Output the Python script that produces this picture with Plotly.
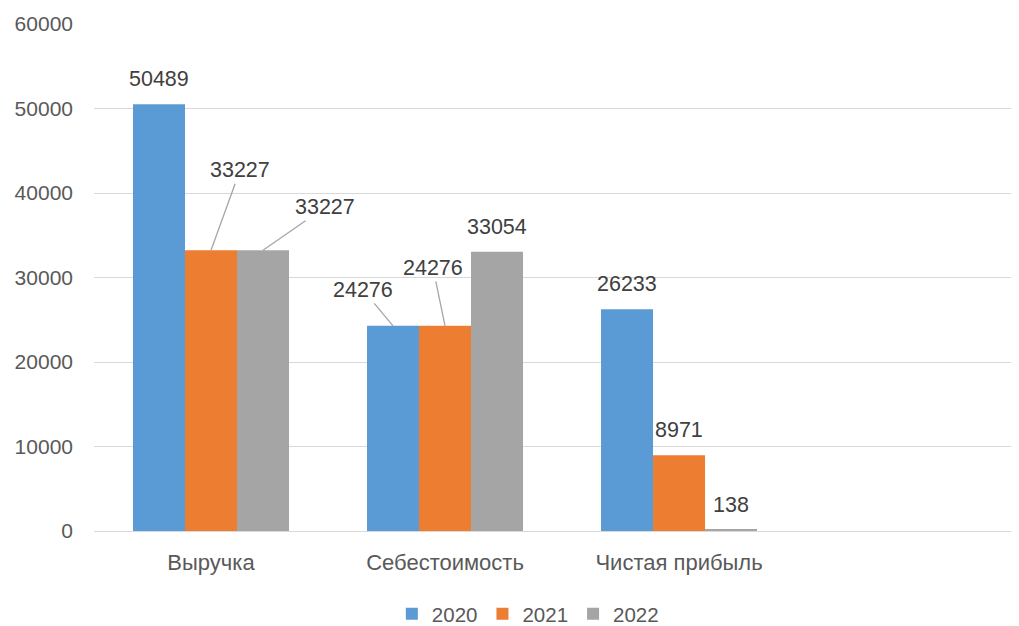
import plotly.graph_objects as go

categories = ["Выручка", "Себестоимость", "Чистая прибыль"]
years = ["2020", "2021", "2022"]
values_2020 = [50489, 24276, 26233]
values_2021 = [33227, 24276, 8971]
values_2022 = [33227, 33054, 138]
colors = ["#5B9BD5", "#ED7D31", "#A5A5A5"]
y_ticks = [0, 10000, 20000, 30000, 40000, 50000, 60000]

series = [values_2020, values_2021, values_2022]
x_pos = list(range(len(categories)))

fig = go.Figure()
for name, vals, col in zip(years, series, colors):
    fig.add_trace(go.Bar(x=x_pos, y=vals, name=name, marker=dict(color=col, line=dict(width=0))))

# label offsets (pixels) for labels with leader lines; others sit above the bar
leader = {(1, 0): (29, -80), (2, 0): (62, -43), (0, 1): (-30, -36), (1, 1): (-12, -58)}
group_w = 1 - 0.3333
bar_w = group_w / 3
lab_font = dict(family="Liberation Sans", size=21.5, color="#404040")
for si, vals in enumerate(series):
    for ci, v in enumerate(vals):
        xc = ci + (si - 1) * bar_w
        if (si, ci) in leader:
            ax, ay = leader[(si, ci)]
            fig.add_annotation(x=xc, y=v, xref="x", yref="y", text=str(v), showarrow=True,
                               ax=ax, ay=ay, axref="pixel", ayref="pixel", arrowhead=0,
                               arrowwidth=1.3, arrowcolor="#A6A6A6", font=lab_font)
        else:
            fig.add_annotation(x=xc, y=v, xref="x", yref="y", text=str(v), showarrow=False,
                               yanchor="middle", yshift=25, font=lab_font)

fig.update_layout(
    width=1019, height=626,
    margin=dict(l=86, r=0, t=16, b=102),
    paper_bgcolor="white", plot_bgcolor="white",
    barmode="group", bargap=0.3333, bargroupgap=0,
    font=dict(family="Liberation Sans", size=21, color="#595959"),
    showlegend=True,
    legend=dict(orientation="h", x=0.465, xanchor="center", y=-0.125, yanchor="top",
                font=dict(size=20.5, color="#595959"), itemwidth=30, traceorder="normal"),
    xaxis=dict(range=[-0.5, 3.487], tickvals=x_pos, ticktext=categories, showgrid=False,
               showline=False, ticks="", tickfont=dict(size=22, color="#595959"),
               ticklabelstandoff=16, zeroline=False, automargin=False),
    yaxis=dict(range=[0, 60000], tickvals=y_ticks, ticktext=[str(t) for t in y_ticks],
               showgrid=True, gridcolor="#D9D9D9",
               gridwidth=1.3, zeroline=True, zerolinecolor="#D9D9D9", zerolinewidth=1.3,
               ticks="", ticklabelstandoff=20, tickfont=dict(size=21, color="#595959"),
               showline=False, automargin=False),
)

fig.write_html("out.html")
